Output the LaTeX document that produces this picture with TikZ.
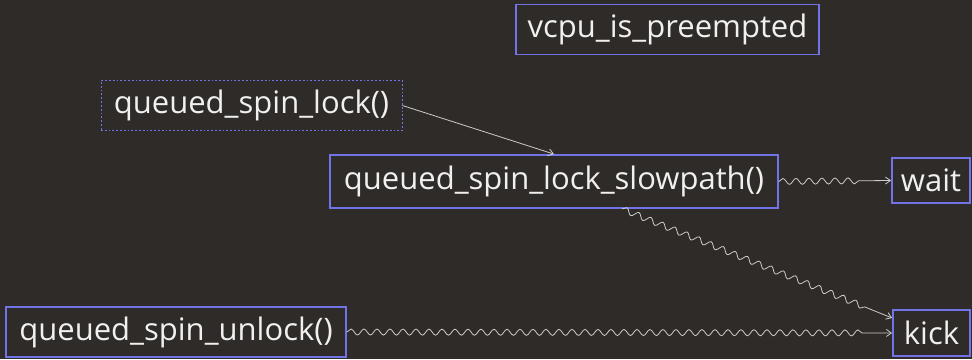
\documentclass[tikz,border=0pt]{standalone}
\usepackage{fontspec}
\setmainfont{Open Sans}
\usepackage{tikz}
\usetikzlibrary{arrows.meta,positioning,decorations.pathmorphing}
\definecolor{SlideBg}{HTML}{2F2B28}
\definecolor{BoxBlue}{HTML}{7373E8}
\definecolor{InkWhite}{HTML}{F0F0F0}
\definecolor{WireGray}{HTML}{CCCCCC}

\begin{document}
\begin{tikzpicture}[x=1pt,y=-1pt,>={Straight Barb[length=5pt,width=7pt]},
  fnbox/.style={draw=BoxBlue,line width=1.8pt,text=InkWhite,
    font=\fontsize{31}{34}\selectfont,inner sep=0pt,minimum height=50pt},
  callee/.style={fnbox,dotted,line width=0.8pt},
  wire/.style={WireGray,line width=0.8pt,->},
  wiggle/.style={wire,decorate,decoration={snake,amplitude=3pt,
    segment length=13pt,post length=28pt}}]
  \useasboundingbox[fill=SlideBg] (0,0) rectangle (972,359);
  % the boxes
  \node[fnbox,minimum width=303pt] (preempt) at (667.5,29.5) {vcpu\_is\_preempted};
  \node[callee,minimum width=301pt] (lock) at (251.5,105.5) {queued\_spin\_lock()};
  \node[fnbox,minimum width=448pt,minimum height=53pt] (slow) at (554,181.5)
      {queued\_spin\_lock\_slowpath()};
  \node[fnbox,minimum width=78pt,minimum height=45pt] (wait) at (931,180.5) {wait};
  \node[fnbox,minimum width=340pt] (unlock) at (176,332) {queued\_spin\_unlock()};
  \node[fnbox,minimum width=77pt,minimum height=46pt] (kick) at (931.5,333) {kick};
  % calls
  \draw[wire] (lock.east) -- (slow.north);
  \draw[wiggle] (slow.east) -- (wait.west);
  \draw[wiggle] ([xshift=68pt]slow.south) -- ([yshift=15pt]kick.west);
  \draw[wiggle] (unlock.east) -- (kick.west);
\end{tikzpicture}
\end{document}
